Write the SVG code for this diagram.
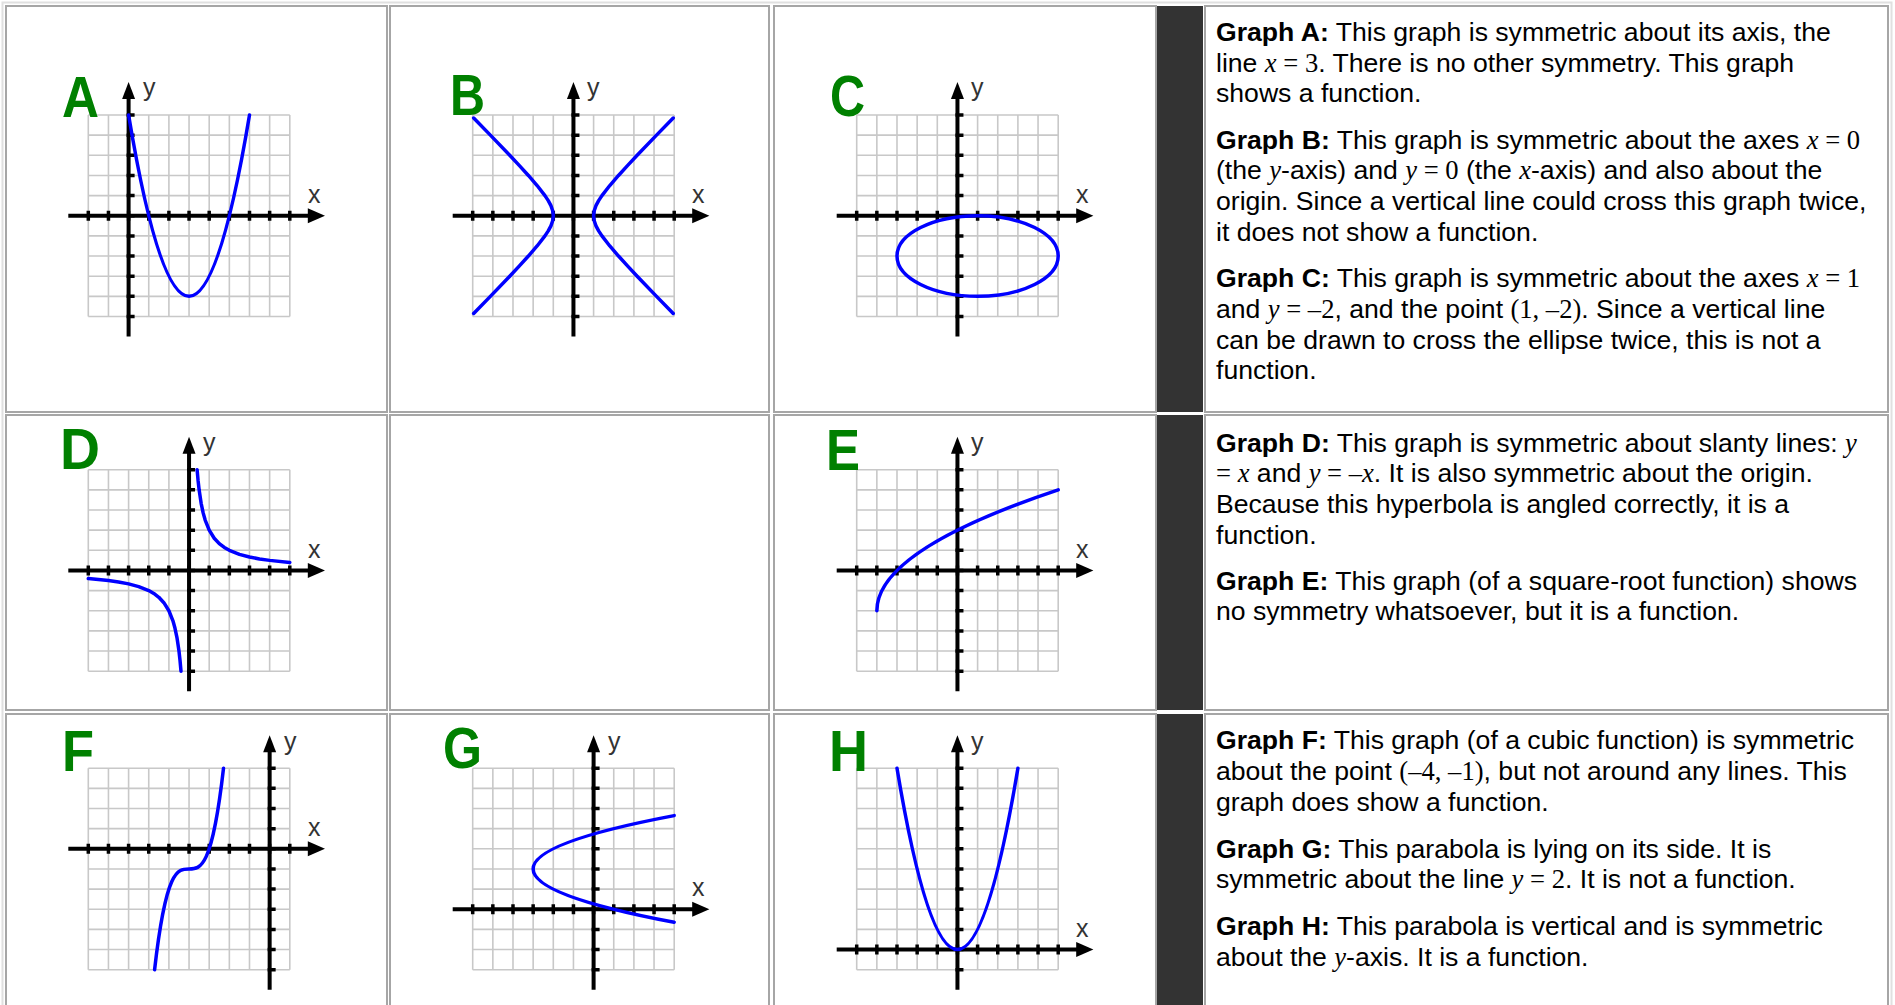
<svg xmlns="http://www.w3.org/2000/svg" xmlns:xlink="http://www.w3.org/1999/xlink" width="1895" height="1005" viewBox="0 0 1895 1005">
<style>
.cell{fill:#fff;stroke:#a6a6a6;stroke-width:2}
.dark{fill:#333}
.gr{fill:none;stroke:#c8c8c8;stroke-width:1.6}
.ax{fill:none;stroke:#000;stroke-width:4}
.tk{fill:none;stroke:#000;stroke-width:3.5}
.ah{fill:#000}
.cv{fill:none;stroke:#0000ff;stroke-width:3.5;stroke-linejoin:round;stroke-linecap:round}
.lbl{font-family:"Liberation Sans",Arial,sans-serif;font-size:25px;fill:#333}
.big{font-family:"Liberation Sans",Arial,sans-serif;font-size:58px;font-weight:bold;fill:#008000}
.t{font-family:"Liberation Sans",Arial,sans-serif;font-size:26.6px;fill:#000}
.b{font-weight:bold}
.m{font-family:"Liberation Serif","Times New Roman",serif}
.i{font-style:italic}
</style>
<defs>
<path id="grid" class="gr" d="M0 0V201.5M20.15 0V201.5M40.3 0V201.5M60.45 0V201.5M80.6 0V201.5M100.75 0V201.5M120.9 0V201.5M141.05 0V201.5M161.2 0V201.5M181.35 0V201.5M201.5 0V201.5M0 0H201.5M0 20.15H201.5M0 40.3H201.5M0 60.45H201.5M0 80.6H201.5M0 100.75H201.5M0 120.9H201.5M0 141.05H201.5M0 161.2H201.5M0 181.35H201.5M0 201.5H201.5"/>
<g id="xax">
<path class="ax" d="M-20 0H222"/>
<path class="ah" d="M236.7 0L219.5 -7.5L219.5 7.5Z"/>
<path class="tk" d="M0 -5V5M20.15 -5V5M40.3 -5V5M60.45 -5V5M80.6 -5V5M100.75 -5V5M120.9 -5V5M141.05 -5V5M161.2 -5V5M181.35 -5V5M201.5 -5V5"/>
</g>
<g id="yax">
<path class="ax" d="M0 -18V221.5"/>
<path class="ah" d="M0 -33L-6.5 -16L6.5 -16Z"/>
<path class="tk" d="M-2 0H6M-2 20.15H6M-2 40.3H6M-2 60.45H6M-2 80.6H6M-2 100.75H6M-2 120.9H6M-2 141.05H6M-2 161.2H6M-2 181.35H6M-2 201.5H6"/>
</g>
</defs>
<rect width="1895" height="1005" fill="#fff"/>
<g id="table">
<rect x="2.5" y="2.5" width="1889" height="1010" fill="none" stroke="#e0e0e0" stroke-width="2"/>
<rect class="cell" x="6" y="6" width="381" height="406"/>
<rect class="cell" x="390" y="6" width="379" height="406"/>
<rect class="cell" x="774" y="6" width="382" height="406"/>
<rect class="dark" x="1157" y="6" width="46" height="406"/>
<rect class="cell" x="1205" y="6" width="683" height="406"/>
<rect class="cell" x="6" y="415" width="381" height="295"/>
<rect class="cell" x="390" y="415" width="379" height="295"/>
<rect class="cell" x="774" y="415" width="382" height="295"/>
<rect class="dark" x="1157" y="415" width="46" height="295"/>
<rect class="cell" x="1205" y="415" width="683" height="295"/>
<rect class="cell" x="6" y="714" width="381" height="300"/>
<rect class="cell" x="390" y="714" width="379" height="300"/>
<rect class="cell" x="774" y="714" width="382" height="300"/>
<rect class="dark" x="1157" y="714" width="46" height="300"/>
<rect class="cell" x="1205" y="714" width="683" height="300"/>
</g>
<g id="graph-A">
<g transform="translate(128.6,215.75)">
<use xlink:href="#grid" x="-40.3" y="-100.75"/>
<use xlink:href="#xax" x="-40.3" y="0"/>
<use xlink:href="#yax" x="0" y="-100.75"/>
<path class="cv" transform="scale(20.15,-20.15)" vector-effect="non-scaling-stroke" d="M0 5Q3 -13 6 5"/>
</g>
<text class="big" x="62" y="116.5" textLength="37" lengthAdjust="spacingAndGlyphs">A</text>
<text class="lbl" x="143" y="96">y</text>
<text class="lbl" x="308" y="203">x</text>
</g>
<g id="graph-B">
<g transform="translate(573.45,215.75)">
<use xlink:href="#grid" x="-100.75" y="-100.75"/>
<use xlink:href="#xax" x="-100.75" y="0"/>
<use xlink:href="#yax" x="0" y="-100.75"/>
<path class="cv" transform="scale(20.15,-20.15)" vector-effect="non-scaling-stroke" d="M4.952 4.85L4.123 4L3.162 3L2.693 2.5L2.236 2L1.803 1.5L1.414 1L1.25 0.75L1.118 0.5L1.031 0.25L1 0L1.031 -0.25L1.118 -0.5L1.25 -0.75L1.414 -1L1.803 -1.5L2.236 -2L2.693 -2.5L3.162 -3L4.123 -4L4.952 -4.85M-4.952 4.85L-4.123 4L-3.162 3L-2.693 2.5L-2.236 2L-1.803 1.5L-1.414 1L-1.25 0.75L-1.118 0.5L-1.031 0.25L-1 0L-1.031 -0.25L-1.118 -0.5L-1.25 -0.75L-1.414 -1L-1.803 -1.5L-2.236 -2L-2.693 -2.5L-3.162 -3L-4.123 -4L-4.952 -4.85"/>
</g>
<text class="big" x="450" y="115" textLength="35" lengthAdjust="spacingAndGlyphs">B</text>
<text class="lbl" x="587" y="96">y</text>
<text class="lbl" x="692" y="203">x</text>
</g>
<g id="graph-C">
<g transform="translate(957.45,215.75)">
<use xlink:href="#grid" x="-100.75" y="-100.75"/>
<use xlink:href="#xax" x="-100.75" y="0"/>
<use xlink:href="#yax" x="0" y="-100.75"/>
<ellipse class="cv" cx="20.15" cy="40.3" rx="80.6" ry="40.3"/>
</g>
<text class="big" x="830" y="115.5" textLength="35" lengthAdjust="spacingAndGlyphs">C</text>
<text class="lbl" x="971" y="96">y</text>
<text class="lbl" x="1076" y="203">x</text>
</g>
<g id="graph-D">
<g transform="translate(189.05,570.45)">
<use xlink:href="#grid" x="-100.75" y="-100.75"/>
<use xlink:href="#xax" x="-100.75" y="0"/>
<use xlink:href="#yax" x="0" y="-100.75"/>
<path class="cv" transform="scale(20.15,-20.15)" vector-effect="non-scaling-stroke" d="M0.4 5L0.45 4.444L0.5 4L0.6 3.333L0.7 2.857L0.8 2.5L1 2L1.25 1.6L1.5 1.333L1.75 1.143L2 1L2.5 0.8L3 0.667L3.5 0.571L4 0.5L5 0.4M-0.4 -5L-0.45 -4.444L-0.5 -4L-0.6 -3.333L-0.7 -2.857L-0.8 -2.5L-1 -2L-1.25 -1.6L-1.5 -1.333L-1.75 -1.143L-2 -1L-2.5 -0.8L-3 -0.667L-3.5 -0.571L-4 -0.5L-5 -0.4"/>
</g>
<text class="big" x="60" y="469" textLength="40" lengthAdjust="spacingAndGlyphs">D</text>
<text class="lbl" x="203" y="450.5">y</text>
<text class="lbl" x="308" y="557.5">x</text>
</g>
<g id="graph-E">
<g transform="translate(957.45,570.45)">
<use xlink:href="#grid" x="-100.75" y="-100.75"/>
<use xlink:href="#xax" x="-100.75" y="0"/>
<use xlink:href="#yax" x="0" y="-100.75"/>
<path class="cv" transform="scale(20.15,-20.15)" vector-effect="non-scaling-stroke" d="M-4 -2Q-4 1 5 4"/>
</g>
<text class="big" x="826" y="469.5" textLength="34" lengthAdjust="spacingAndGlyphs">E</text>
<text class="lbl" x="971" y="450.5">y</text>
<text class="lbl" x="1076" y="557.5">x</text>
</g>
<g id="graph-F">
<g transform="translate(269.65,848.8)">
<use xlink:href="#grid" x="-181.35" y="-80.6"/>
<use xlink:href="#xax" x="-181.35" y="0"/>
<use xlink:href="#yax" x="0" y="-80.6"/>
<path class="cv" transform="scale(20.15,-20.15)" vector-effect="non-scaling-stroke" d="M-5.71 -6C-4.57 4 -3.43 -6 -2.29 4"/>
</g>
<text class="big" x="62" y="771" textLength="32" lengthAdjust="spacingAndGlyphs">F</text>
<text class="lbl" x="284" y="749.5">y</text>
<text class="lbl" x="308" y="836">x</text>
</g>
<g id="graph-G">
<g transform="translate(593.6,909.25)">
<use xlink:href="#grid" x="-120.9" y="-141.05"/>
<use xlink:href="#xax" x="-120.9" y="0"/>
<use xlink:href="#yax" x="0" y="-141.05"/>
<path class="cv" transform="scale(20.15,-20.15)" vector-effect="non-scaling-stroke" d="M4 4.646Q-10 2 4 -0.646"/>
</g>
<text class="big" x="443" y="768" textLength="39" lengthAdjust="spacingAndGlyphs">G</text>
<text class="lbl" x="608" y="749.5">y</text>
<text class="lbl" x="692" y="896">x</text>
</g>
<g id="graph-H">
<g transform="translate(957.45,949.55)">
<use xlink:href="#grid" x="-100.75" y="-181.35"/>
<use xlink:href="#xax" x="-100.75" y="0"/>
<use xlink:href="#yax" x="0" y="-181.35"/>
<path class="cv" transform="scale(20.15,-20.15)" vector-effect="non-scaling-stroke" d="M-3 9Q0 -9 3 9"/>
</g>
<text class="big" x="829" y="771" textLength="39" lengthAdjust="spacingAndGlyphs">H</text>
<text class="lbl" x="971" y="749.5">y</text>
<text class="lbl" x="1076" y="936.5">x</text>
</g>
<g id="text-ABC">
<text class="t" x="1216" y="41.2"><tspan class="b">Graph A:</tspan> This graph is symmetric about its axis, the</text>
<text class="t" x="1216" y="71.8">line <tspan class="m"><tspan class="i">x</tspan> = 3</tspan>. There is no other symmetry. This graph</text>
<text class="t" x="1216" y="102.4">shows a function.</text>
<text class="t" x="1216" y="148.8"><tspan class="b">Graph B:</tspan> This graph is symmetric about the axes <tspan class="m"><tspan class="i">x</tspan> = 0</tspan></text>
<text class="t" x="1216" y="179.4">(the <tspan class="m i">y</tspan>-axis) and <tspan class="m"><tspan class="i">y</tspan> = 0</tspan> (the <tspan class="m i">x</tspan>-axis) and also about the</text>
<text class="t" x="1216" y="210">origin. Since a vertical line could cross this graph twice,</text>
<text class="t" x="1216" y="240.6">it does not show a function.</text>
<text class="t" x="1216" y="287.4"><tspan class="b">Graph C:</tspan> This graph is symmetric about the axes <tspan class="m"><tspan class="i">x</tspan> = 1</tspan></text>
<text class="t" x="1216" y="318">and <tspan class="m"><tspan class="i">y</tspan> = –2</tspan>, and the point <tspan class="m">(1, –2)</tspan>. Since a vertical line</text>
<text class="t" x="1216" y="348.6">can be drawn to cross the ellipse twice, this is not a</text>
<text class="t" x="1216" y="379.2">function.</text>
</g>
<g id="text-DE">
<text class="t" x="1216" y="451.8"><tspan class="b">Graph D:</tspan> This graph is symmetric about slanty lines: <tspan class="m i">y</tspan></text>
<text class="t" x="1216" y="482.4"><tspan class="m">= <tspan class="i">x</tspan></tspan> and <tspan class="m"><tspan class="i">y</tspan> = –<tspan class="i">x</tspan></tspan>. It is also symmetric about the origin.</text>
<text class="t" x="1216" y="513">Because this hyperbola is angled correctly, it is a</text>
<text class="t" x="1216" y="543.6">function.</text>
<text class="t" x="1216" y="589.8"><tspan class="b">Graph E:</tspan> This graph (of a square-root function) shows</text>
<text class="t" x="1216" y="620.4">no symmetry whatsoever, but it is a function.</text>
</g>
<g id="text-FGH">
<text class="t" x="1216" y="749.4"><tspan class="b">Graph F:</tspan> This graph (of a cubic function) is symmetric</text>
<text class="t" x="1216" y="780">about the point <tspan class="m">(–4, –1)</tspan>, but not around any lines. This</text>
<text class="t" x="1216" y="810.6">graph does show a function.</text>
<text class="t" x="1216" y="857.8"><tspan class="b">Graph G:</tspan> This parabola is lying on its side. It is</text>
<text class="t" x="1216" y="888.4">symmetric about the line <tspan class="m"><tspan class="i">y</tspan> = 2</tspan>. It is not a function.</text>
<text class="t" x="1216" y="935.2"><tspan class="b">Graph H:</tspan> This parabola is vertical and is symmetric</text>
<text class="t" x="1216" y="965.8">about the <tspan class="m i">y</tspan>-axis. It is a function.</text>
</g>
</svg>
